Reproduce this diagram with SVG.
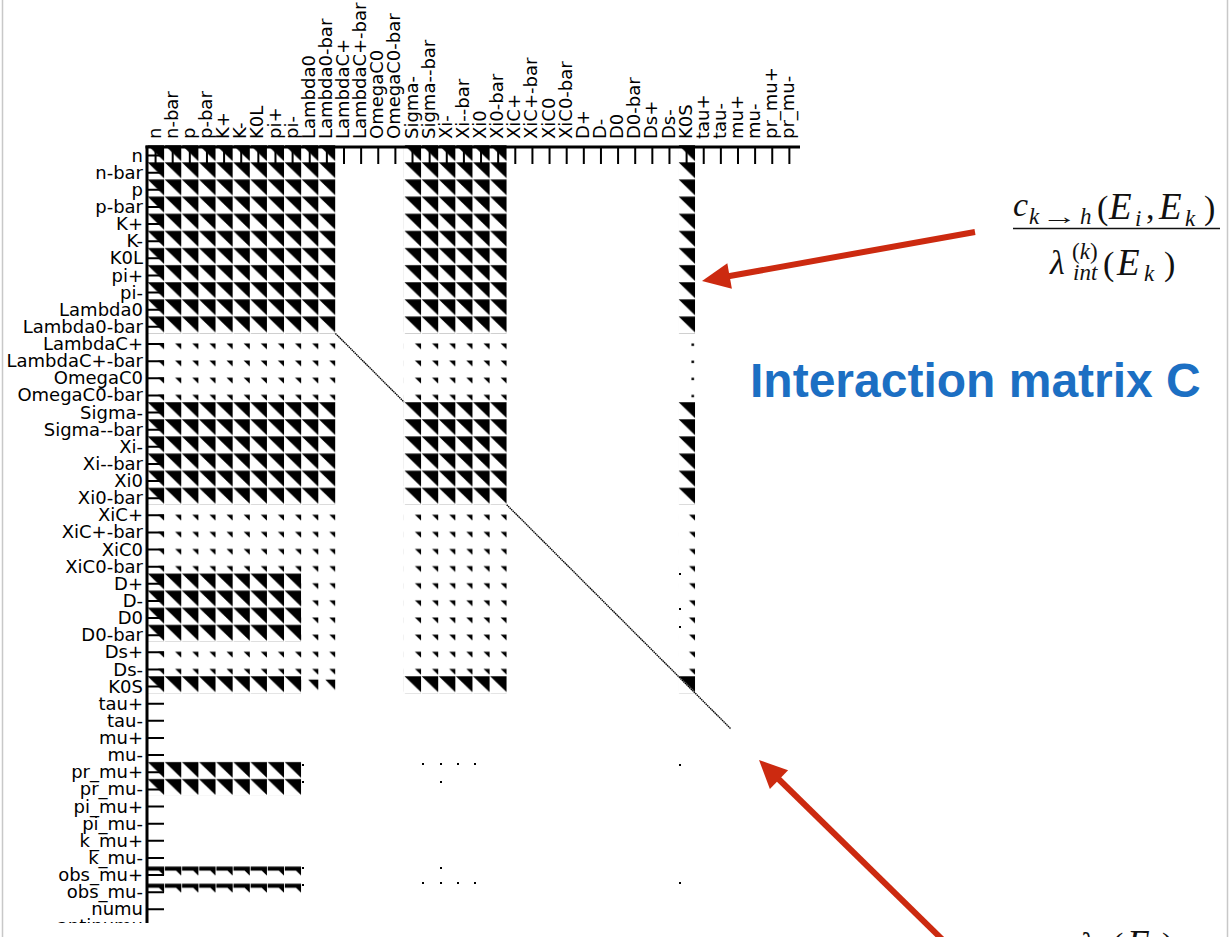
<svg xmlns="http://www.w3.org/2000/svg" width="1230" height="937" viewBox="0 0 1230 937">
<style>
.lbl{font-family:"DejaVu Sans","Liberation Sans",sans-serif;font-size:18px;fill:#000}
.rl{text-anchor:end}
.m{font-family:"Liberation Serif","Times New Roman",serif;font-style:italic;font-size:34px;fill:#111}
.s{font-size:23px}
.n{font-style:normal}
.e{font-size:37px}
.ax{stroke:#000;stroke-width:3;fill:none}
.tk{stroke:#000;stroke-width:2;fill:none}
.arr{stroke:#cc2a10;stroke-width:6;fill:none}
.head{fill:#cc2a10}
</style>
<defs>
<pattern id="pf" patternUnits="userSpaceOnUse" x="147" y="145" width="17.13" height="17.13"><polygon points="0.6,0.3 17.13,0.3 17.13,16.2" fill="#000"/></pattern>
<pattern id="ps" patternUnits="userSpaceOnUse" x="147" y="145" width="17.13" height="17.13"><polygon points="11,10 17.13,10 17.13,16" fill="#000"/></pattern>
<pattern id="pm" patternUnits="userSpaceOnUse" x="147" y="145" width="17.13" height="17.13"><polygon points="7,3.5 17.13,3.5 17.13,14" fill="#000"/></pattern>
<pattern id="pd" patternUnits="userSpaceOnUse" x="147" y="145" width="17.13" height="17.13"><rect x="13.5" y="10" width="2.5" height="2.5" fill="#000"/></pattern>
<pattern id="po" patternUnits="userSpaceOnUse" x="147" y="145" width="17.13" height="17.13"><polygon points="0.8,2.2 17.13,2.2 17.13,11.2 12,6.2 0.8,6.2" fill="#000"/></pattern>
<clipPath id="plotclip"><rect x="0" y="0" width="1230" height="923"/></clipPath>
</defs>
<rect x="0" y="0" width="1230" height="937" fill="#fff"/>
<line x1="2.5" y1="0" x2="2.5" y2="937" stroke="#c8c8c8" stroke-width="1.5"/>
<line x1="1227.5" y1="0" x2="1227.5" y2="937" stroke="#c8c8c8" stroke-width="1.5"/>

<g id="matrix" clip-path="url(#plotclip)">
<g id="blocks">
<rect x="147" y="145" width="188.43" height="188.43" fill="url(#pf)"/>
<rect x="403.95" y="145" width="102.78" height="188.43" fill="url(#pf)"/>
<rect x="678.03" y="145" width="17.13" height="188.43" fill="url(#pf)"/>
<rect x="147" y="401.95" width="188.43" height="102.78" fill="url(#pf)"/>
<rect x="403.95" y="401.95" width="102.78" height="102.78" fill="url(#pf)"/>
<rect x="678.03" y="401.95" width="17.13" height="102.78" fill="url(#pf)"/>
<rect x="147" y="573.25" width="154.17" height="68.52" fill="url(#pf)"/>
<rect x="147" y="676.03" width="154.17" height="17.13" fill="url(#pf)"/>
<rect x="403.95" y="676.03" width="102.78" height="17.13" fill="url(#pf)"/>
<rect x="678.03" y="676.03" width="17.13" height="17.13" fill="url(#pf)"/>
<rect x="147" y="761.68" width="154.17" height="34.26" fill="url(#pf)"/>
<rect x="147" y="864.46" width="154.17" height="34.26" fill="url(#po)"/>
<rect x="301.17" y="676.03" width="34.26" height="17.13" fill="url(#pm)"/>
<rect x="147" y="333.43" width="188.43" height="68.52" fill="url(#ps)"/>
<rect x="403.95" y="333.43" width="102.78" height="68.52" fill="url(#ps)"/>
<rect x="678.03" y="333.43" width="17.13" height="68.52" fill="url(#pd)"/>
<rect x="147" y="504.73" width="188.43" height="68.52" fill="url(#ps)"/>
<rect x="403.95" y="504.73" width="102.78" height="171.3" fill="url(#ps)"/>
<rect x="678.03" y="504.73" width="17.13" height="171.3" fill="url(#ps)"/>
<rect x="301.17" y="573.25" width="34.26" height="68.52" fill="url(#ps)"/>
<rect x="147" y="641.77" width="188.43" height="34.26" fill="url(#ps)"/>
<g fill="#000">
<rect x="679" y="573" width="2" height="2"/>
<rect x="679" y="608" width="2" height="2"/>
<rect x="679" y="626" width="2" height="2"/>
<rect x="679" y="764" width="2" height="2"/>
<rect x="679" y="882" width="2" height="2"/>
<rect x="422" y="763" width="2" height="2"/>
<rect x="440" y="763" width="2" height="2"/>
<rect x="457" y="763" width="2" height="2"/>
<rect x="474" y="763" width="2" height="2"/>
<rect x="440" y="781" width="2" height="2"/>
<rect x="440" y="867" width="2" height="2"/>
<rect x="422" y="882" width="2" height="2"/>
<rect x="440" y="882" width="2" height="2"/>
<rect x="457" y="882" width="2" height="2"/>
<rect x="474" y="882" width="2" height="2"/>
<rect x="302" y="764" width="2" height="2"/>
<rect x="302" y="781" width="2" height="2"/>
<rect x="302" y="867" width="2" height="2"/>
<rect x="302" y="884" width="2" height="2"/>
</g>
</g>
<g id="diagonal" stroke="#000" stroke-width="1.4" fill="none" stroke-dasharray="1.5 0.6">
<line x1="335.4" y1="333.4" x2="404" y2="402"/>
<line x1="506.7" y1="504.7" x2="731" y2="729"/>
</g>
<g id="axes">
<line class="ax" x1="145.5" y1="147" x2="800" y2="147"/>
<line class="ax" x1="147" y1="145.5" x2="147" y2="930"/>
<path class="tk" d="M155.57,147v17M172.7,147v17M189.83,147v17M206.96,147v17M224.09,147v17M241.22,147v17M258.35,147v17M275.48,147v17M292.61,147v17M309.74,147v17M326.87,147v17M344,147v17M361.13,147v17M378.26,147v17M395.39,147v17M412.52,147v17M429.65,147v17M446.78,147v17M463.91,147v17M481.04,147v17M498.17,147v17M515.3,147v17M532.43,147v17M549.56,147v17M566.69,147v17M583.82,147v17M600.95,147v17M618.08,147v17M635.21,147v17M652.34,147v17M669.47,147v17M686.6,147v17M703.73,147v17M720.86,147v17M737.99,147v17M755.12,147v17M772.25,147v17M789.38,147v17"/>
<path class="tk" d="M147,155.57h17M147,172.7h17M147,189.83h17M147,206.96h17M147,224.09h17M147,241.22h17M147,258.35h17M147,275.48h17M147,292.61h17M147,309.74h17M147,326.87h17M147,344h17M147,361.13h17M147,378.26h17M147,395.39h17M147,412.52h17M147,429.65h17M147,446.78h17M147,463.91h17M147,481.04h17M147,498.17h17M147,515.3h17M147,532.43h17M147,549.56h17M147,566.69h17M147,583.82h17M147,600.95h17M147,618.08h17M147,635.21h17M147,652.34h17M147,669.47h17M147,686.6h17M147,703.73h17M147,720.86h17M147,737.99h17M147,755.12h17M147,772.25h17M147,789.38h17M147,806.51h17M147,823.64h17M147,840.77h17M147,857.9h17M147,875.03h17M147,892.16h17M147,909.29h17M147,926.42h17"/>
</g>
<g id="row-labels" class="lbl rl">
<text x="143" y="161.6">n</text>
<text x="143" y="178.7">n-bar</text>
<text x="143" y="195.8">p</text>
<text x="143" y="213">p-bar</text>
<text x="143" y="230.1">K+</text>
<text x="143" y="247.2">K-</text>
<text x="143" y="264.4">K0L</text>
<text x="143" y="281.5">pi+</text>
<text x="143" y="298.6">pi-</text>
<text x="143" y="315.7">Lambda0</text>
<text x="143" y="332.9">Lambda0-bar</text>
<text x="143" y="350">LambdaC+</text>
<text x="143" y="367.1">LambdaC+-bar</text>
<text x="143" y="384.3">OmegaC0</text>
<text x="143" y="401.4">OmegaC0-bar</text>
<text x="143" y="418.5">Sigma-</text>
<text x="143" y="435.7">Sigma--bar</text>
<text x="143" y="452.8">Xi-</text>
<text x="143" y="469.9">Xi--bar</text>
<text x="143" y="487">Xi0</text>
<text x="143" y="504.2">Xi0-bar</text>
<text x="143" y="521.3">XiC+</text>
<text x="143" y="538.4">XiC+-bar</text>
<text x="143" y="555.6">XiC0</text>
<text x="143" y="572.7">XiC0-bar</text>
<text x="143" y="589.8">D+</text>
<text x="143" y="607">D-</text>
<text x="143" y="624.1">D0</text>
<text x="143" y="641.2">D0-bar</text>
<text x="143" y="658.3">Ds+</text>
<text x="143" y="675.5">Ds-</text>
<text x="143" y="692.6">K0S</text>
<text x="143" y="709.7">tau+</text>
<text x="143" y="726.9">tau-</text>
<text x="143" y="744">mu+</text>
<text x="143" y="761.1">mu-</text>
<text x="143" y="778.3">pr_mu+</text>
<text x="143" y="795.4">pr_mu-</text>
<text x="143" y="812.5">pi_mu+</text>
<text x="143" y="829.6">pi_mu-</text>
<text x="143" y="846.8">k_mu+</text>
<text x="143" y="863.9">k_mu-</text>
<text x="143" y="881">obs_mu+</text>
<text x="143" y="898.2">obs_mu-</text>
<text x="143" y="915.3">numu</text>
<text x="143" y="932.4">antinumu</text>
</g>
</g>
<g id="col-labels" class="lbl">
<text transform="translate(160.6,139) rotate(-90)">n</text>
<text transform="translate(177.7,139) rotate(-90)">n-bar</text>
<text transform="translate(194.8,139) rotate(-90)">p</text>
<text transform="translate(212,139) rotate(-90)">p-bar</text>
<text transform="translate(229.1,139) rotate(-90)">K+</text>
<text transform="translate(246.2,139) rotate(-90)">K-</text>
<text transform="translate(263.4,139) rotate(-90)">K0L</text>
<text transform="translate(280.5,139) rotate(-90)">pi+</text>
<text transform="translate(297.6,139) rotate(-90)">pi-</text>
<text transform="translate(314.7,139) rotate(-90)">Lambda0</text>
<text transform="translate(331.9,139) rotate(-90)">Lambda0-bar</text>
<text transform="translate(349,139) rotate(-90)">LambdaC+</text>
<text transform="translate(366.1,139) rotate(-90)">LambdaC+-bar</text>
<text transform="translate(383.3,139) rotate(-90)">OmegaC0</text>
<text transform="translate(400.4,139) rotate(-90)">OmegaC0-bar</text>
<text transform="translate(417.5,139) rotate(-90)">Sigma-</text>
<text transform="translate(434.7,139) rotate(-90)">Sigma--bar</text>
<text transform="translate(451.8,139) rotate(-90)">Xi-</text>
<text transform="translate(468.9,139) rotate(-90)">Xi--bar</text>
<text transform="translate(486,139) rotate(-90)">Xi0</text>
<text transform="translate(503.2,139) rotate(-90)">Xi0-bar</text>
<text transform="translate(520.3,139) rotate(-90)">XiC+</text>
<text transform="translate(537.4,139) rotate(-90)">XiC+-bar</text>
<text transform="translate(554.6,139) rotate(-90)">XiC0</text>
<text transform="translate(571.7,139) rotate(-90)">XiC0-bar</text>
<text transform="translate(588.8,139) rotate(-90)">D+</text>
<text transform="translate(606,139) rotate(-90)">D-</text>
<text transform="translate(623.1,139) rotate(-90)">D0</text>
<text transform="translate(640.2,139) rotate(-90)">D0-bar</text>
<text transform="translate(657.3,139) rotate(-90)">Ds+</text>
<text transform="translate(674.5,139) rotate(-90)">Ds-</text>
<text transform="translate(691.6,139) rotate(-90)">K0S</text>
<text transform="translate(708.7,139) rotate(-90)">tau+</text>
<text transform="translate(725.9,139) rotate(-90)">tau-</text>
<text transform="translate(743,139) rotate(-90)">mu+</text>
<text transform="translate(760.1,139) rotate(-90)">mu-</text>
<text transform="translate(777.3,139) rotate(-90)">pr_mu+</text>
<text transform="translate(794.4,139) rotate(-90)">pr_mu-</text>
</g>

<g id="title">
<text x="750" y="397" font-family="'Liberation Sans',Arial,sans-serif" font-weight="bold" font-size="48" fill="#1c6fc3">Interaction matrix C</text>
</g>

<g id="formula-top">
<text class="m" x="1013" y="216">c</text>
<text class="m s" x="1029" y="224">k</text>
<text class="m s n" x="1041" y="224" textLength="36" lengthAdjust="spacingAndGlyphs">→</text>
<text class="m s" x="1080" y="224">h</text>
<text class="m n" x="1097" y="219">(</text>
<text class="m e" x="1109" y="219">E</text>
<text class="m s" x="1135" y="226">i</text>
<text class="m n" x="1146" y="219">,</text>
<text class="m e" x="1159" y="219">E</text>
<text class="m s" x="1185" y="226">k</text>
<text class="m n" x="1204" y="219">)</text>
<line x1="1013" y1="228.5" x2="1220" y2="228.5" stroke="#111" stroke-width="1.6"/>
<text class="m" x="1050" y="274">λ</text>
<text class="m s n" x="1072" y="259">(<tspan font-style="italic">k</tspan>)</text>
<text class="m s" x="1073" y="280">int</text>
<text class="m n" x="1103" y="275">(</text>
<text class="m e" x="1117" y="275">E</text>
<text class="m s" x="1144" y="281">k</text>
<text class="m n" x="1164" y="275">)</text>
</g>

<g id="formula-bottom">
<text class="m" x="1080" y="956">λ</text>
<text class="m n" x="1112" y="956">(</text>
<text class="m e" x="1127" y="956">E</text>
<text class="m n" x="1162" y="956">)</text>
</g>

<g id="connectors">
<line class="arr" x1="975" y1="232" x2="727" y2="276.5"/>
<polygon class="head" points="702,281 731.9,288.8 727.3,263.2"/>
<line class="arr" x1="950" y1="947" x2="777" y2="777.5"/>
<polygon class="head" points="759,760 788.1,770.3 769.9,788.9"/>
</g>
</svg>
